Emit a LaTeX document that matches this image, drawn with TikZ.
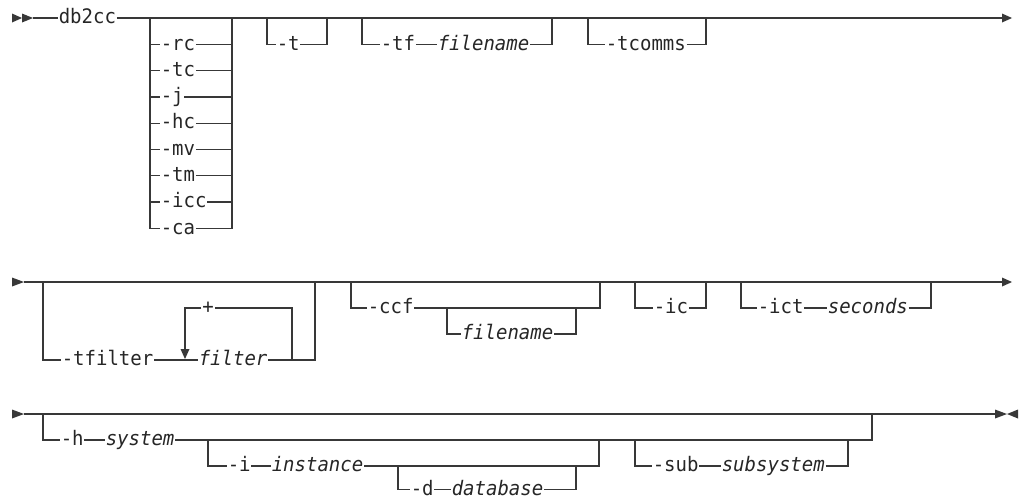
\documentclass[tikz,border=0pt]{standalone}
\usepackage{fontspec}
\setmainfont{DejaVu Sans Mono}[FakeStretch=0.95]
\definecolor{ln}{HTML}{383838}
\definecolor{tx}{HTML}{262626}
\newcommand\kwf{\fontsize{20}{24}\selectfont}
\tikzset{
  rail/.style={draw=ln, line width=1.3pt, line join=miter, line cap=butt},
  thickrail/.style={draw=ln, line width=2.4pt, line cap=butt},
  kw/.style={anchor=west, inner xsep=0.6pt, inner ysep=0pt, text height=14pt, text depth=2.5pt, font=\kwf, text=tx},
  var/.style={kw, font=\kwf\itshape},
  tip/.style={fill=ln, draw=none},
}
\begin{document}
\begin{tikzpicture}[x=1pt,y=-1pt]
\useasboundingbox (0,0) rectangle (1022,499);

% ---------------- Row 1 ----------------
\coordinate (s1) at (33,18);
\coordinate (e1) at (1002,18);
\node[kw] (db) at (58,18) {db2cc};
\fill[tip] (12,13.5) -- (22,18) -- (12,22.5) -- cycle;
\fill[tip] (22,13.5) -- (33,18) -- (22,22.5) -- cycle;
\draw[rail] (s1) -- (db.west);
\draw[rail] (db.east) -- (e1);
\fill[tip] (e1) -- ++(0,-4.5) -- ++(10,4.5) -- ++(-10,4.5) -- cycle;

% option stack
\coordinate (sL) at (150,18);
\coordinate (sR) at (232,18);
\foreach \lab [count=\k] in {-rc,-tc,-j,-hc,-mv,-tm,-icc,-ca} {
  \node[kw] (o\k) at (160,18+26.3*\k) {\lab};
}
\foreach \k in {1,...,7} {
  \draw[rail] (sL |- o\k.west) -- (o\k.west);
  \draw[rail] (o\k.east) -- (sR |- o\k.east);
}
\draw[rail] (sL) -- (sL |- o8.west) -- (o8.west);
\draw[rail] (o8.east) -- (sR |- o8.east) -- (sR);

% -t
\coordinate (tL) at (267,18);
\coordinate (tR) at (327,18);
\node[kw] (t) at (276,44.3) {-t};
\draw[rail] (tL) -- (tL |- t.west) -- (t.west);
\draw[rail] (t.east) -- (tR |- t.east) -- (tR);

% -tf filename
\coordinate (tfL) at (362,18);
\coordinate (tfR) at (552,18);
\node[kw] (tf) at (380,44.3) {-tf};
\node[var] (fn1) at (437,44.3) {filename};
\draw[rail] (tfL) -- (tfL |- tf.west) -- (tf.west);
\draw[rail] (tf.east) -- (fn1.west);
\draw[rail] (fn1.east) -- (tfR |- fn1.east) -- (tfR);

% -tcomms
\coordinate (tcL) at (588,18);
\coordinate (tcR) at (706,18);
\node[kw] (tc) at (605,44.3) {-tcomms};
\draw[rail] (tcL) -- (tcL |- tc.west) -- (tc.west);
\draw[rail] (tc.east) -- (tcR |- tc.east) -- (tcR);

% ---------------- Row 2 ----------------
\coordinate (s2) at (24,282);
\coordinate (e2) at (1002,282);
\fill[tip] (12,277.5) -- (24,282) -- (12,286.5) -- cycle;
\draw[rail] (s2) -- (e2);
\fill[tip] (e2) -- ++(0,-4.5) -- ++(10,4.5) -- ++(-10,4.5) -- cycle;

% -tfilter filter (repeat)
\coordinate (fL) at (43,282);
\coordinate (fR) at (315,282);
\node[kw] (tfl) at (61,360) {-tfilter};
\node[var] (flt) at (198,360) {filter};
\draw[rail] (fL) -- (fL |- tfl.west) -- (tfl.west);
\draw[rail] (tfl.east) -- (flt.west);
\draw[rail] (flt.east) -- (fR |- flt.east) -- (fR);
\coordinate (lpR) at (292,360);
\coordinate (lpL) at (185,308);
\coordinate (lpA) at (185,349);
\node[kw, anchor=center] (plus) at (208,308) {+};
\draw[rail] (lpR) -- (lpR |- plus) -- (plus.east);
\draw[rail] (plus.west) -- (lpL) -- (lpA);
\fill[tip] (lpA) ++(-4.5,0) -- ++(9,0) -- ++(-4.5,10) -- cycle;

% -ccf [filename]
\coordinate (cL) at (351,282);
\coordinate (cR) at (600,282);
\coordinate (ciL) at (447,308);
\coordinate (ciR) at (576,308);
\node[kw] (ccf) at (367,308) {-ccf};
\node[var] (fn2) at (461,334) {filename};
\draw[rail] (cL) -- (cL |- ccf.west) -- (ccf.west);
\draw[rail] (ccf.east) -- (cR |- ccf.east) -- (cR);
\draw[rail] (ciL) -- (ciL |- fn2.west) -- (fn2.west);
\draw[rail] (fn2.east) -- (ciR |- fn2.east) -- (ciR);

% -ic
\coordinate (icL) at (635,282);
\coordinate (icR) at (706,282);
\node[kw] (ic) at (653,308) {-ic};
\draw[rail] (icL) -- (icL |- ic.west) -- (ic.west);
\draw[rail] (ic.east) -- (icR |- ic.east) -- (icR);

% -ict seconds
\coordinate (ctL) at (741,282);
\coordinate (ctR) at (931,282);
\node[kw] (ict) at (757,308) {-ict};
\node[var] (sec) at (827,308) {seconds};
\draw[rail] (ctL) -- (ctL |- ict.west) -- (ict.west);
\draw[rail] (ict.east) -- (sec.west);
\draw[rail] (sec.east) -- (ctR |- sec.east) -- (ctR);

% ---------------- Row 3 ----------------
\coordinate (s3) at (24,414);
\coordinate (e3) at (995,414);
\coordinate (k1) at (877,414);
\coordinate (k2) at (900,414);
\fill[tip] (12,409.5) -- (24,414) -- (12,418.5) -- cycle;
\draw[rail] (s3) -- (e3);
\draw[thickrail] (k1) -- (k2);
\fill[tip] (e3) -- ++(0,-4.5) -- ++(12,4.5) -- ++(-12,4.5) -- cycle;
\fill[tip] (1018,409.5) -- (1007,414) -- (1018,418.5) -- cycle;

% -h system
\coordinate (hL) at (43,414);
\coordinate (hR) at (872,414);
\node[kw] (h) at (60,440) {-h};
\node[var] (sys) at (105,440) {system};
\draw[rail] (hL) -- (hL |- h.west) -- (h.west);
\draw[rail] (h.east) -- (sys.west);
\draw[rail] (sys.east) -- (hR |- sys.east) -- (hR);

% -i instance
\coordinate (iL) at (208,440);
\coordinate (iR) at (599,440);
\node[kw] (i) at (227,466) {-i};
\node[var] (inst) at (271,466) {instance};
\draw[rail] (iL) -- (iL |- i.west) -- (i.west);
\draw[rail] (i.east) -- (inst.west);
\draw[rail] (inst.east) -- (iR |- inst.east) -- (iR);

% -d database
\coordinate (dL) at (398,466);
\coordinate (dR) at (576,466);
\node[kw] (d) at (410,489.5) {-d};
\node[var] (dbs) at (451,489.5) {database};
\draw[rail] (dL) -- (dL |- d.west) -- (d.west);
\draw[rail] (d.east) -- (dbs.west);
\draw[rail] (dbs.east) -- (dR |- dbs.east) -- (dR);

% -sub subsystem
\coordinate (sbL) at (635,440);
\coordinate (sbR) at (848,440);
\node[kw] (sub) at (652,466) {-sub};
\node[var] (subs) at (721,466) {subsystem};
\draw[rail] (sbL) -- (sbL |- sub.west) -- (sub.west);
\draw[rail] (sub.east) -- (subs.west);
\draw[rail] (subs.east) -- (sbR |- subs.east) -- (sbR);
\end{tikzpicture}
\end{document}
